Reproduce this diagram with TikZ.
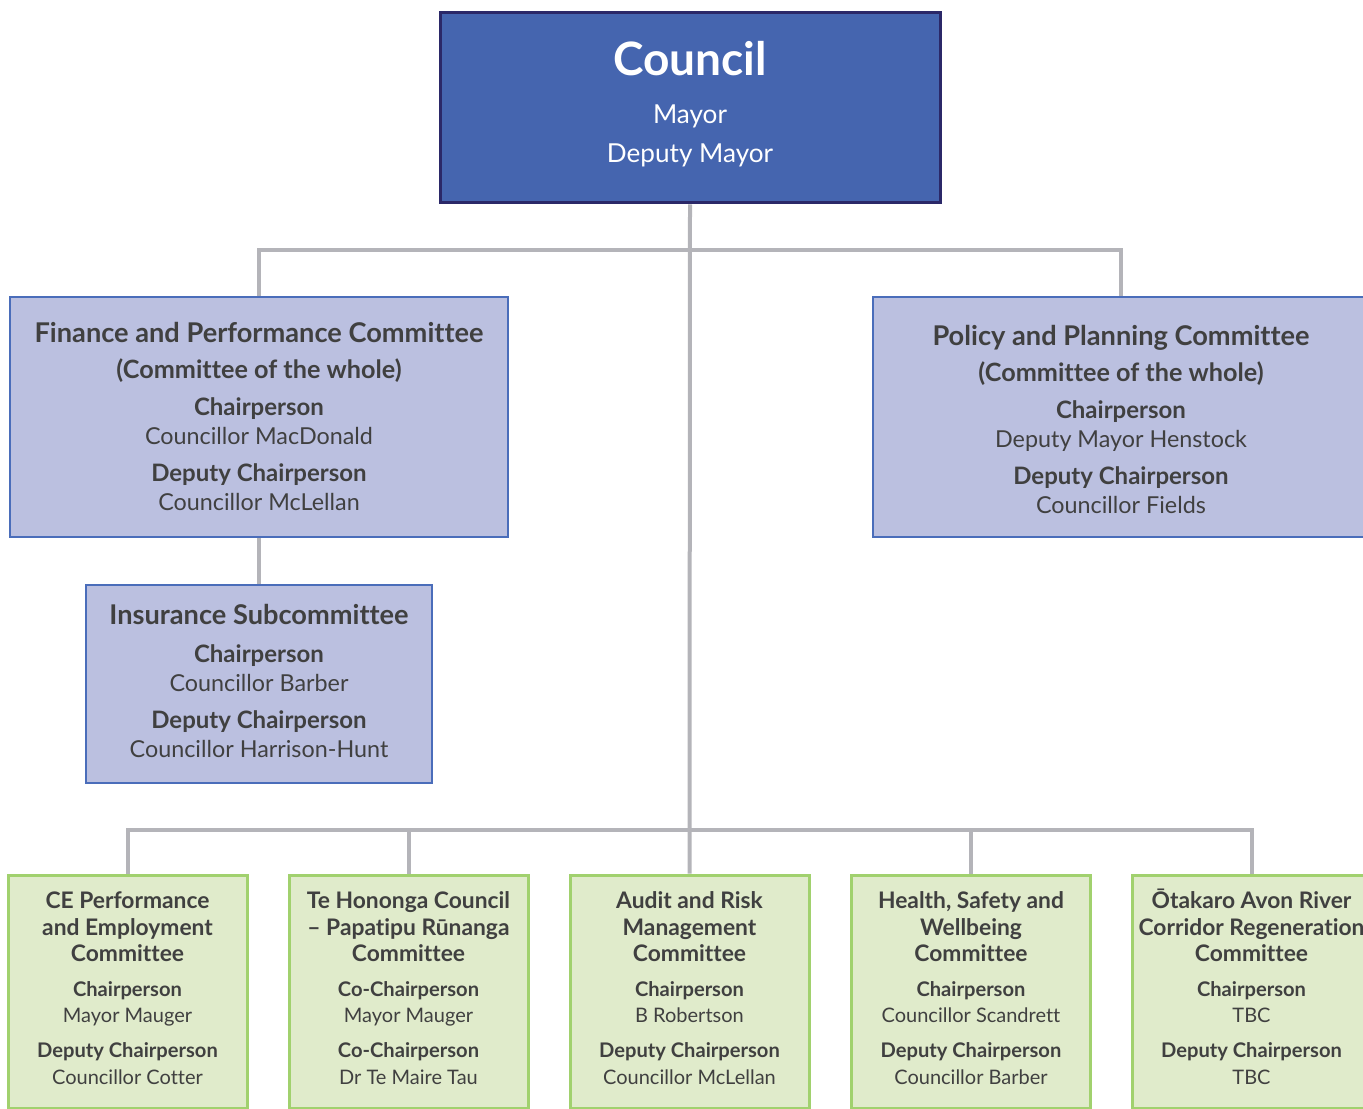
\documentclass[tikz,border=0pt]{standalone}
\usepackage{fontspec}
\setmainfont{Lato}[Ligatures=NoCommon]
\definecolor{councilblue}{HTML}{4565AF}
\definecolor{councilborder}{HTML}{2B2868}
\definecolor{lavfill}{HTML}{BBC0E0}
\definecolor{lavborder}{HTML}{4A6DBA}
\definecolor{grnfill}{HTML}{E0EBCB}
\definecolor{grnborder}{HTML}{A1D16E}
\definecolor{linegray}{HTML}{B4B4B9}
\definecolor{textgray}{HTML}{404040}
\newcommand\cTitle{\fontsize{34.5}{36}\selectfont\bfseries}
\newcommand\cSub{\fontsize{19.6}{24}\selectfont}
\newcommand\mTitle{\fontsize{20.4}{22}\selectfont\bfseries}
\newcommand\mSub{\fontsize{18.9}{22}\selectfont\bfseries}
\newcommand\mRole{\fontsize{18}{20}\selectfont\bfseries}
\newcommand\mName{\fontsize{17.5}{20}\selectfont}
\newcommand\sTitle{\fontsize{17.1}{20}\selectfont\bfseries}
\newcommand\sRole{\fontsize{15.1}{18}\selectfont\bfseries}
\newcommand\sName{\fontsize{15}{18}\selectfont}
\newcommand\topstrut[1]{\rule{0pt}{#1}}
\begin{document}
\begin{tikzpicture}[x=0.75pt,y=-0.75pt,
  conn/.style={draw=linegray, line width=3pt},
  councilbox/.style={draw=councilborder, fill=councilblue, line width=2.25pt, minimum width=375pt, minimum height=142.5pt, inner sep=0},
  lavbox/.style={draw=lavborder, fill=lavfill, line width=1.5pt, inner sep=0},
  grnbox/.style={draw=grnborder, fill=grnfill, line width=2.25pt, minimum width=179.25pt, minimum height=174.75pt, inner sep=0},
  txt/.style={text=textgray, align=center, inner sep=0, anchor=north},
  mtxt/.style={txt, font=\fontsize{17.5}{22.1}\selectfont},
  stxt/.style={txt, font=\fontsize{15}{20.1}\selectfont},
]
\useasboundingbox (0,0) rectangle (1363,1109);
\clip (0,0) rectangle (1363,1109);

% boxes
\node[councilbox] (council) at (690,108) {};
\node[lavbox, minimum width=373.5pt, minimum height=180pt] (fin) at (259,417) {};
\node[lavbox, minimum width=372pt, minimum height=180pt] (pol) at (1121,417) {};
\node[lavbox, minimum width=259.5pt, minimum height=148.5pt] (ins) at (259,684) {};
\node[grnbox] (ce) at (127.5,991.5) {};
\node[grnbox] (te) at (408.5,991.5) {};
\node[grnbox] (audit) at (689.5,991.5) {};
\node[grnbox] (hs) at (971,991.5) {};
\node[grnbox] (ot) at (1251.5,991.5) {};

% connectors
\draw[conn] (council.south) -- (audit.north);
\draw[conn] (fin.north) -- (fin.north |- 0,250) -| (pol.north);
\draw[conn] (fin.south) -- (ins.north);
\draw[conn] (ce.north) -- (ce.north |- 0,830) -| (ot.north);
\draw[conn] (te.north) -- (te.north |- 0,830);
\draw[conn] (hs.north) -- (hs.north |- 0,830);

% texts
\node[txt, text=white, font=\fontsize{21}{29.25}\selectfont] (council-t) at (690,35)
  {{\cTitle\topstrut{30pt}Council}\\[6.75pt] {\cSub Mayor}\\ {\cSub Deputy Mayor}};

\node[mtxt] (fin-t) at (259,318)
  {{\mTitle\topstrut{18pt}Finance and Performance Committee}\\[5.25pt]
   {\mSub (Committee of the whole)}\\[5.25pt]
   {\mRole Chairperson}\\ {\mName Councillor MacDonald}\\[5.25pt]
   {\mRole Deputy Chairperson}\\ {\mName Councillor McLellan}};

\node[mtxt] (pol-t) at (1121,321)
  {{\mTitle\topstrut{18pt}Policy and Planning Committee}\\[5.25pt]
   {\mSub (Committee of the whole)}\\[5.25pt]
   {\mRole Chairperson}\\ {\mName Deputy Mayor Henstock}\\[5.25pt]
   {\mRole Deputy Chairperson}\\ {\mName Councillor Fields}};

\node[mtxt] (ins-t) at (259,600)
  {{\mTitle\topstrut{18pt}Insurance Subcommittee}\\[6.4pt]
   {\mRole Chairperson}\\ {\mName Councillor Barber}\\[5.25pt]
   {\mRole Deputy Chairperson}\\ {\mName Councillor Harrison-Hunt}};

\node[stxt] (ce-t) at (127.5,888)
  {{\sTitle\topstrut{15pt}CE Performance}\\ {\sTitle and Employment}\\ {\sTitle Committee}\\[5.6pt]
   {\sRole Chairperson}\\ {\sName Mayor Mauger}\\[5.6pt]
   {\sRole Deputy Chairperson}\\ {\sName Councillor Cotter}};

\node[stxt] (te-t) at (408.5,888)
  {{\sTitle\topstrut{15pt}Te Hononga Council}\\ {\sTitle – Papatipu Rūnanga}\\ {\sTitle Committee}\\[5.6pt]
   {\sRole Co-Chairperson}\\ {\sName Mayor Mauger}\\[5.6pt]
   {\sRole Co-Chairperson}\\ {\sName Dr Te Maire Tau}};

\node[stxt] (audit-t) at (689.5,888)
  {{\sTitle\topstrut{15pt}Audit and Risk}\\ {\sTitle Management}\\ {\sTitle Committee}\\[5.6pt]
   {\sRole Chairperson}\\ {\sName B Robertson}\\[5.6pt]
   {\sRole Deputy Chairperson}\\ {\sName Councillor McLellan}};

\node[stxt] (hs-t) at (971,888)
  {{\sTitle\topstrut{15pt}Health, Safety and}\\ {\sTitle Wellbeing}\\ {\sTitle Committee}\\[5.6pt]
   {\sRole Chairperson}\\ {\sName Councillor Scandrett}\\[5.6pt]
   {\sRole Deputy Chairperson}\\ {\sName Councillor Barber}};

\node[stxt] (ot-t) at (1251.5,888)
  {{\sTitle\topstrut{15pt}Ōtakaro Avon River}\\ {\sTitle Corridor Regeneration}\\ {\sTitle Committee}\\[5.6pt]
   {\sRole Chairperson}\\ {\sName TBC}\\[5.6pt]
   {\sRole Deputy Chairperson}\\ {\sName TBC}};
\end{tikzpicture}
\end{document}
